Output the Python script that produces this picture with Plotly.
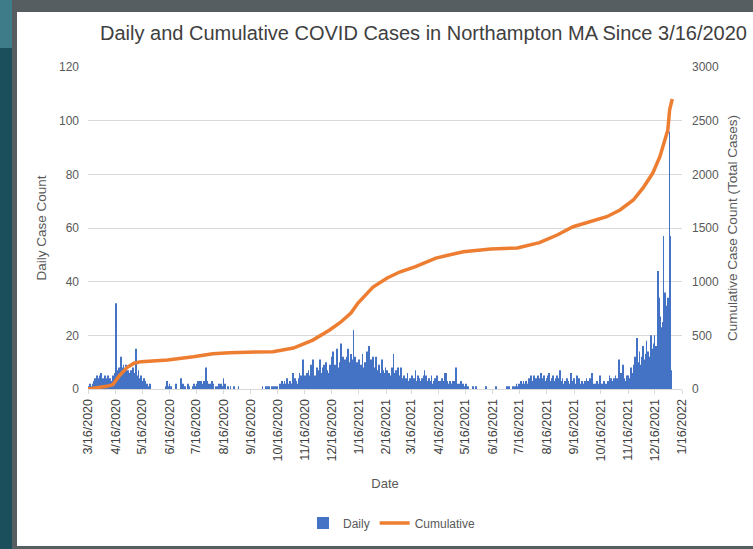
import pandas as pd
import plotly.graph_objects as go

# ---------------- data ----------------
start_date = "2020-03-16"

mar20 = [1,0,2,1,0,1,2,3,4,2,5,3,4,5,2,6]
apr20 = [3,4,2,5,3,4,2,5,3,4,2,3,5,4,6,14,32,7,5,8,6,12,5,8,9,7,6,9,5,7]
may20 = [6,4,3,7,5,8,4,6,15,3,5,7,4,2,5,3,1,4,2,3,1,2,0,1,2,0,0,0,0,0,0]
jun20 = [0,0,0,0,0,0,0,0,0,0,0,1,3,0,1,2,0,1,0,0,0,0,2,0,0,0,0,0,4,1]
jul20 = [2,1,0,1,0,0,2,1,0,0,0,1,0,2,1,1,2,3,2,3,2,3,2,1,3,2,8,2,3,2,1]
aug20 = [2,1,3,2,0,0,0,1,0,1,2,1,2,1,1,4,1,2,0,0,1,0,0,1,0,0,0,1,0,0,0]
sep20 = [0,1,0,0,0,0,0,0,0,0,0,0,0,0,0,0,0,0,0,0,0,0,0,0,0,0,0,0,1,0]
oct20 = [0,0,1,0,1,0,1,0,0,1,0,1,0,1,0,1,0,0,2,1,3,0,2,3,1,2,4,2,1,3,2]
nov20 = [2,3,6,2,4,3,1,2,4,6,3,5,4,11,3,5,4,6,3,7,5,4,9,6,11,3,5,4,6,8]
dec20 = [5,7,11,6,4,8,5,9,6,10,7,4,6,9,5,12,8,14,6,9,7,15,8,6,4,10,17,9,12,7,11]
jan21 = [6,9,12,15,8,10,13,7,11,22,9,12,8,10,6,11,7,9,5,13,8,6,10,7,14,9,16,8,6,11,7]
feb21 = [12,6,8,12,5,7,4,9,6,5,11,7,4,6,8,5,7,4,6,3,5,8,4,13,6,5,7,4]
mar21 = [8,4,5,3,8,2,4,5,3,4,2,6,3,2,4,3,5,2,4,3,7,3,2,5,4,3,2,4,3,5,7]
apr21 = [3,5,2,3,4,2,3,5,2,1,3,4,2,5,3,2,1,3,2,4,2,3,6,2,6,3,2,1,3,2]
may21 = [2,3,1,2,3,8,2,1,2,1,3,2,1,2,0,1,2,0,1,0,0,0,0,0,1,0,0,1,0,0,0]
jun21 = [0,0,0,0,0,0,0,0,1,0,0,0,0,0,0,0,0,0,0,1,0,0,0,0,0,0,0,0,0,0]
jul21 = [0,1,0,0,1,0,0,0,1,0,1,0,2,1,0,2,1,3,1,2,3,1,2,3,1,2,4,3,5,2,3]
aug21 = [3,5,2,4,3,5,2,4,3,6,2,4,5,3,2,4,3,5,6,3,2,4,5,3,2,4,3,5,2,4,7]
sep21 = [3,2,4,1,2,3,2,4,3,1,2,3,6,2,3,4,2,1,5,3,2,4,1,2,3,2,1,3,2,4]
oct21 = [2,3,1,4,2,6,3,2,1,2,1,3,1,2,5,1,0,2,1,3,2,1,2,3,2,5,3,4,2,3,4]
nov21 = [3,5,2,4,3,11,4,6,3,9,5,4,2,3,5,5,3,4,8,3,2,6,9,12,7,19,6,10,14,8]
dec21 = [9,12,16,8,11,13,18,10,14,12,9,20,15,11,17,20,13,16,15,44,34,27,18,23,25,57,26,36,31,22,34]
jan22 = [29,96,57,7]

daily = (mar20 + apr20 + may20 + jun20 + jul20 + aug20 + sep20 + oct20 + nov20 + dec20
         + jan21 + feb21 + mar21 + apr21 + may21 + jun21 + jul21 + aug21 + sep21 + oct21
         + nov21 + dec21 + jan22)
daily_dates = pd.date_range(start_date, periods=len(daily), freq="D")

cum_dates = ["2020-03-16", "2020-03-26", "2020-04-06", "2020-04-13", "2020-04-20", "2020-04-29",
             "2020-05-07", "2020-05-15", "2020-06-14", "2020-07-13", "2020-08-04", "2020-08-23",
             "2020-10-11", "2020-11-03", "2020-11-25", "2020-12-14", "2020-12-26", "2021-01-07",
             "2021-01-15", "2021-02-01", "2021-02-17", "2021-03-03", "2021-03-21", "2021-04-13",
             "2021-05-14", "2021-06-14", "2021-07-14", "2021-08-08", "2021-08-28", "2021-09-15",
             "2021-10-04", "2021-10-23", "2021-11-07", "2021-11-22", "2021-12-03", "2021-12-14",
             "2021-12-22", "2021-12-28", "2021-12-31", "2022-01-02", "2022-01-05"]
cum_values = [0, 10, 25, 40, 120, 200,
              240, 255, 270, 300, 328, 338,
              348, 382, 456, 550, 620, 708,
              801, 950, 1034, 1090, 1140, 1220,
              1279, 1305, 1313, 1363, 1435, 1512,
              1559, 1605, 1668, 1761, 1873, 2012,
              2164, 2350, 2413, 2600, 2702]

tick_dates = ["2020-03-16", "2020-04-16", "2020-05-16", "2020-06-16", "2020-07-16", "2020-08-16",
              "2020-09-16", "2020-10-16", "2020-11-16", "2020-12-16", "2021-01-16", "2021-02-16",
              "2021-03-16", "2021-04-16", "2021-05-16", "2021-06-16", "2021-07-16", "2021-08-16",
              "2021-09-16", "2021-10-16", "2021-11-16", "2021-12-16", "2022-01-16"]
tick_labels = ["3/16/2020", "4/16/2020", "5/16/2020", "6/16/2020", "7/16/2020", "8/16/2020",
               "9/16/2020", "10/16/2020", "11/16/2020", "12/16/2020", "1/16/2021", "2/16/2021",
               "3/16/2021", "4/16/2021", "5/16/2021", "6/16/2021", "7/16/2021", "8/16/2021",
               "9/16/2021", "10/16/2021", "11/16/2021", "12/16/2021", "1/16/2022"]

# ---------------- layout helpers ----------------
W, H = 753, 549
L, R, T, B = 88, 71, 67, 160
PW = W - L - R
PH = H - T - B


def px(x):
    return (x - L) / PW


def py(y):
    return (H - B - y) / PH


FONT = "Liberation Sans, Arial, Helvetica, sans-serif"
GRAY = "#595959"
DARK = "#404040"

fig = go.Figure()
fig.add_trace(go.Bar(x=daily_dates, y=daily, name="Daily",
                     marker=dict(color="#4472c4", line=dict(width=0))))
fig.add_trace(go.Scatter(x=cum_dates, y=cum_values, name="Cumulative", yaxis="y2",
                         mode="lines", line=dict(color="#ed7d31", width=3.5)))


def rect(x0, y0, x1, y1, color):
    return dict(type="rect", xref="paper", yref="paper", layer="below",
                x0=px(x0), x1=px(x1), y0=py(y1), y1=py(y0),
                fillcolor=color, line=dict(width=0))


shapes = [
    rect(0, 0, 12, 48, "#3f7c8a"),
    rect(12, 0, 760, 560, "#565e61"),
    rect(17, 12, 760, 546, "#ffffff"),
]

fig.update_layout(
    width=W, height=H,
    margin=dict(l=L, r=R, t=T, b=B, autoexpand=False),
    paper_bgcolor="#1a4f5b",
    plot_bgcolor="rgba(0,0,0,0)",
    shapes=shapes,
    font=dict(family=FONT, color=GRAY),
    title=dict(text="Daily and Cumulative COVID Cases in Northampton MA Since 3/16/2020",
               x=423.5 / W, xref="container", xanchor="center",
               y=1 - 33 / H, yref="container", yanchor="middle",
               font=dict(size=20, color=DARK, family=FONT)),
    bargap=0.1,
    showlegend=True,
    legend=dict(orientation="h", x=px(392), xanchor="center", y=py(523), yanchor="middle",
                font=dict(size=12, color=GRAY), bgcolor="rgba(0,0,0,0)"),
    xaxis=dict(type="date", range=["2020-03-16", "2022-01-16"],
               tickmode="array", tickvals=tick_dates, ticktext=tick_labels,
               tickangle=-90, tickfont=dict(size=12.5, color=DARK),
               ticks="outside", ticklen=4, tickcolor="#d9d9d9",
               showgrid=False, showline=True, linecolor="#d9d9d9", linewidth=1,
               zeroline=False,
               title=dict(text="Date", font=dict(size=13, color=GRAY), standoff=18)),
    yaxis=dict(range=[0, 120], dtick=20, tick0=0, gridcolor="#d9d9d9", gridwidth=1,
               zeroline=False, showline=False, ticks="", ticklabelstandoff=8,
               tickfont=dict(size=12, color=GRAY),
               title=dict(text="Daily Case Count", font=dict(size=13.5, color=GRAY), standoff=9)),
    yaxis2=dict(range=[0, 3000], dtick=500, tick0=0, overlaying="y", side="right",
                showgrid=False, zeroline=False, showline=False, ticks="", ticklabelstandoff=9,
                tickfont=dict(size=12, color=GRAY),
                title=dict(text="Cumulative Case Count (Total Cases)",
                           font=dict(size=13.5, color=GRAY), standoff=9)),
)

fig.write_html("out.html", config={"displayModeBar": False},
               post_script="document.body.style.margin='0px';")
